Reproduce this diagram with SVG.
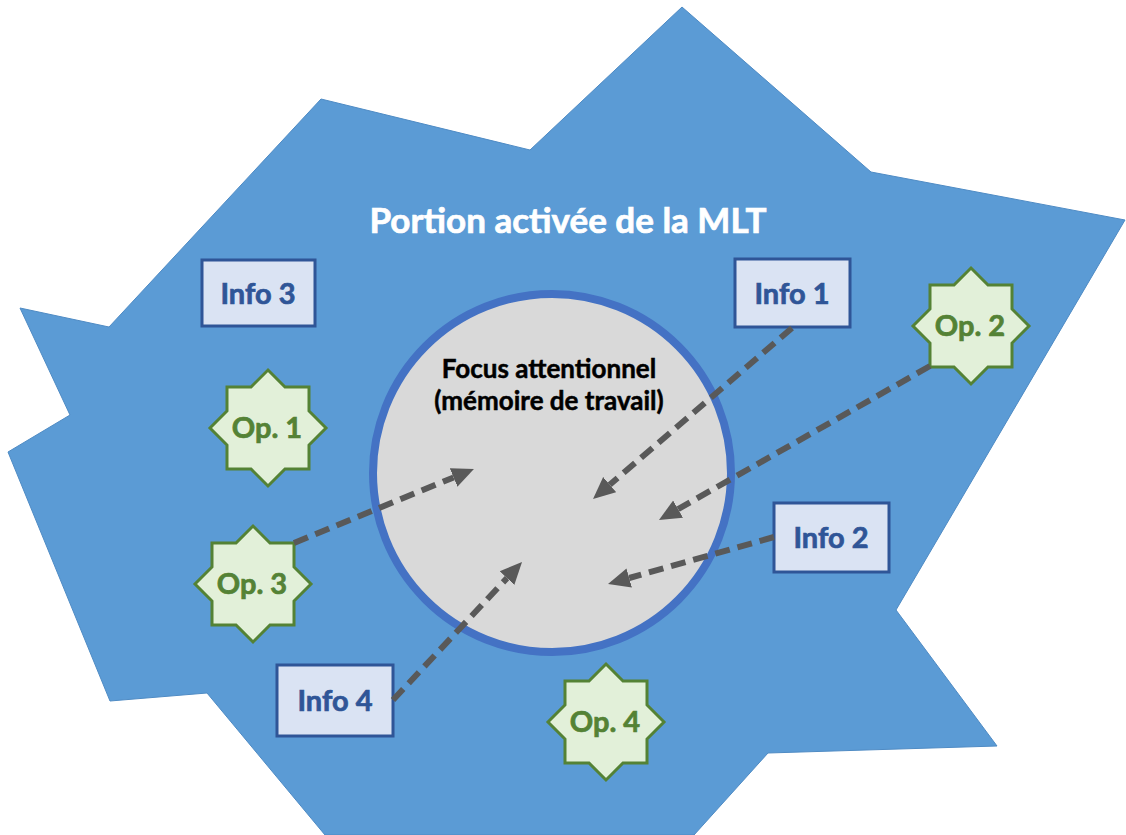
<svg xmlns="http://www.w3.org/2000/svg" width="1126" height="835" viewBox="0 0 1126 835">
<style>
.region{fill:#5B9BD5;stroke:#4F8BC4;stroke-width:1}
.focus{fill:#D9D9D9;stroke:#4472C4;stroke-width:8}
.box{fill:#DAE3F3;stroke:#2F5597;stroke-width:3}
.star{fill:#E2F0D9;stroke:#548235;stroke-width:3;stroke-linejoin:miter}
.t{font-family:Lato,"Open Sans","Liberation Sans",sans-serif;font-weight:bold;text-anchor:middle;stroke-width:0.7}
.info{font-size:29px;fill:#2F5597;stroke:#2F5597}
.op{font-size:29px;fill:#548235;stroke:#548235}
.title{font-size:35px;fill:#FFFFFF;stroke:#FFFFFF}
.ftxt{font-size:26px;fill:#000000;stroke:#000000;stroke-width:0.5}
.arrow{fill:none;stroke:#595959;stroke-width:6;stroke-dasharray:15 8;marker-end:url(#head)}
</style>
<defs>
<marker id="head" markerUnits="userSpaceOnUse" viewBox="0 -11 23 22" markerWidth="23" markerHeight="22" refX="0" refY="0" orient="auto">
<path d="M0,-10 L22,0 L0,10 Z" fill="#595959"/>
</marker>
<polygon id="starshape" points="0,-58 17,-41 41,-41 41,-17 58,0 41,17 41,41 17,41 0,58 -17,41 -41,41 -41,17 -58,0 -41,-17 -41,-41 -17,-41"/>
</defs>
<g id="mlt">
<polygon class="region" points="321,99 530,150 682,7 871,172 1125,220 896,610 997,746 768,753 694,835 325,835 207,693 110,701 8,452 70,415 20,308 109,327"/>
<text class="t title" x="568" y="233">Portion activée de la MLT</text>
</g>
<g id="focus">
<circle class="focus" cx="552" cy="473" r="179"/>
<text class="t ftxt" x="549" y="378">Focus attentionnel</text>
<text class="t ftxt" x="549" y="410">(mémoire de travail)</text>
</g>
<g id="info3"><rect class="box" x="202" y="260" width="113" height="66"/><text class="t info" x="258" y="304">Info 3</text></g>
<g id="info1"><rect class="box" x="735" y="259" width="115" height="68"/><text class="t info" x="792" y="304">Info 1</text></g>
<g id="info2"><rect class="box" x="774" y="503" width="115" height="69"/><text class="t info" x="831" y="548">Info 2</text></g>
<g id="info4"><rect class="box" x="277" y="665" width="116" height="71"/><text class="t info" x="335" y="711">Info 4</text></g>
<g id="op1"><use href="#starshape" class="star" transform="translate(268,428)"/><text class="t op" x="267" y="438">Op. 1</text></g>
<g id="op2"><use href="#starshape" class="star" transform="translate(971,326)"/><text class="t op" x="970" y="336">Op. 2</text></g>
<g id="op3"><use href="#starshape" class="star" transform="translate(253,584)"/><text class="t op" x="252" y="594">Op. 3</text></g>
<g id="op4"><use href="#starshape" class="star" transform="translate(606,722)"/><text class="t op" x="605" y="732">Op. 4</text></g>
<g id="connectors">
<path class="arrow" d="M792,328 L609.7,484.7"/>
<path class="arrow" d="M930,366 L678.1,509.1"/>
<path class="arrow" d="M774,537 L629.2,578"/>
<path class="arrow" d="M294,543 L453.6,477.4"/>
<path class="arrow" d="M393,700 L507,578.1"/>
</g>
</svg>
